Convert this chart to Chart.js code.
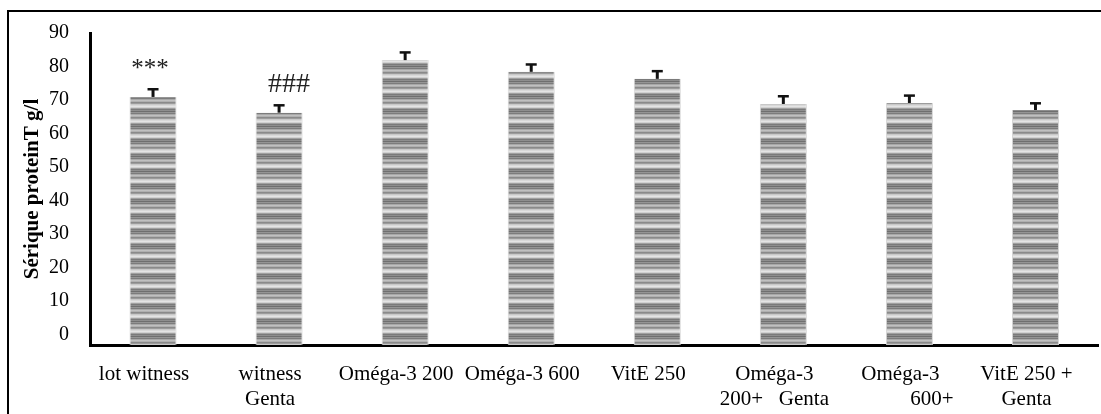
<!DOCTYPE html>
<html lang="fr">
<head>
    <meta charset="UTF-8">
    <title>Sérique proteinT g/l</title>
    <script src="https://cdn.jsdelivr.net/npm/chart.js"></script>
    <style>
        html, body { margin: 0; padding: 0; background: #fff; }
        .chart-container { position: relative; width: 1101px; height: 414px; }
    </style>
</head>
<body>
    <div class="chart-container">
        <canvas id="myChart"></canvas>
    </div>

    <script>
        // data
        const groups = [
            ['lot witness'],
            ['witness', 'Genta'],
            ['Oméga-3 200'],
            ['Oméga-3 600'],
            ['VitE 250'],
            ['Oméga-3', '200+   Genta'],
            ['Oméga-3', '            600+'],
            ['VitE 250 +', 'Genta']
        ];
        const proteinT = [70.9, 66.2, 81.9, 78.4, 76.3, 68.8, 69.1, 67.0];
        const errors = [2.3, 2.2, 2.3, 2.2, 2.3, 2.3, 2.2, 2.0];
        const marks = ['***', '###', '', '', '', '', '', ''];
        const yTicks = [0, 10, 20, 30, 40, 50, 60, 70, 80, 90];

        const serif = "'Liberation Serif', 'Times New Roman', serif";

        // horizontal grey stripes like the original fill
        function stripes() {
            const shades = ['#d8d8d8', '#e4e4e4', '#d0d0d0', '#a0a0a0', '#7a7a7a',
                            '#8e8e8e', '#6f6f6f', '#959595', '#7c7c7c', '#a8a8a8',
                            '#c0c0c0', '#b0b0b0', '#8a8a8a', '#9c9c9c', '#c8c8c8'];
            const c = document.createElement('canvas');
            c.width = 1;
            c.height = shades.length;
            const g = c.getContext('2d');
            shades.forEach((s, i) => { g.fillStyle = s; g.fillRect(0, i, 1, 1); });
            return g.createPattern(c, 'repeat');
        }

        const extras = {
            id: 'extras',
            beforeDraw(chart) {
                const ctx = chart.ctx;
                ctx.save();
                ctx.fillStyle = '#fff';
                ctx.fillRect(0, 0, chart.width, chart.height);
                ctx.strokeStyle = '#000';
                ctx.lineWidth = 2;
                ctx.beginPath();
                ctx.moveTo(8, chart.height);
                ctx.lineTo(8, 11);
                ctx.lineTo(chart.width, 11);
                ctx.stroke();
                ctx.restore();
            },
            afterDatasetsDraw(chart) {
                const ctx = chart.ctx;
                const y = chart.scales.y;
                const x = chart.scales.x;
                ctx.save();
                ctx.strokeStyle = '#111';
                proteinT.forEach((v, i) => {
                    const cx = x.getPixelForValue(i);
                    const top = y.getPixelForValue(v);
                    const cap = y.getPixelForValue(v + errors[i]);
                    ctx.lineWidth = 3;
                    ctx.beginPath();
                    ctx.moveTo(cx, top);
                    ctx.lineTo(cx, cap);
                    ctx.stroke();
                    ctx.lineWidth = 2.5;
                    ctx.beginPath();
                    ctx.moveTo(cx - 5.5, cap);
                    ctx.lineTo(cx + 5.5, cap);
                    ctx.stroke();
                    if (marks[i]) {
                        ctx.fillStyle = '#222';
                        ctx.font = (i === 1 ? '28px ' : '25px ') + serif;
                        ctx.textAlign = 'center';
                        ctx.textBaseline = 'alphabetic';
                        ctx.fillText(marks[i], cx + (i === 1 ? 10 : -3), cap - 13);
                    }
                });
                ctx.restore();
            }
        };

        const ctx = document.getElementById('myChart').getContext('2d');
        new Chart(ctx, {
            type: 'bar',
            data: {
                labels: groups,
                datasets: [{
                    label: 'Sérique proteinT',
                    data: proteinT,
                    base: -3.2,
                    backgroundColor: stripes(),
                    borderColor: '#d4d4d4',
                    borderWidth: { left: 1, right: 1, top: 0, bottom: 0 },
                    borderSkipped: false,
                    barPercentage: 0.373,
                    categoryPercentage: 1
                }]
            },
            options: {
                responsive: true,
                maintainAspectRatio: false,
                animation: false,
                layout: { padding: { top: 25, right: 2.5, left: 0, bottom: 0 } },
                plugins: {
                    legend: { display: false },
                    tooltip: { enabled: false }
                },
                scales: {
                    x: {
                        grid: { display: false, drawTicks: false },
                        border: { display: true, color: '#000', width: 3 },
                        ticks: {
                            color: '#000',
                            font: { size: 21, family: serif },
                            padding: 17,
                            labelOffset: -9,
                            maxRotation: 0,
                            autoSkip: false
                        },
                        afterFit: s => { s.height = 69; }
                    },
                    y: {
                        min: -3.2,
                        max: 90,
                        grid: { display: false, drawTicks: false },
                        border: { display: true, color: '#000', width: 3 },
                        ticks: {
                            color: '#000',
                            font: { size: 20, family: serif },
                            padding: 21
                        },
                        afterBuildTicks: s => { s.ticks = yTicks.map(v => ({ value: v })); },
                        title: {
                            display: true,
                            text: 'Sérique proteinT g/l',
                            color: '#000',
                            font: { size: 21, weight: 'bold', family: serif },
                            padding: { top: 20, bottom: 0 }
                        },
                        afterFit: s => { s.width = 90; }
                    }
                }
            },
            plugins: [extras]
        });
    </script>
</body>
</html>
